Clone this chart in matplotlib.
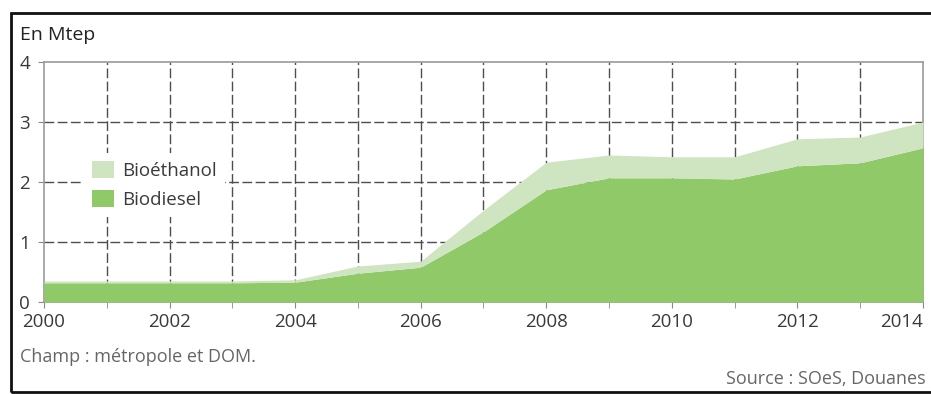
import matplotlib
matplotlib.use("Agg")
import matplotlib.pyplot as plt
from matplotlib.patches import Patch, Rectangle
import numpy as np

# Consommation de biocarburants, en Mtep
years = np.arange(2000, 2015)
biodiesel = [0.32, 0.32, 0.32, 0.32, 0.33, 0.48, 0.58, 1.17, 1.87, 2.07, 2.07, 2.05, 2.27, 2.32, 2.57]
bioethanol = [0.03, 0.03, 0.03, 0.03, 0.04, 0.12, 0.10, 0.36, 0.46, 0.38, 0.35, 0.37, 0.45, 0.43, 0.43]
xticks = [2000, 2002, 2004, 2006, 2008, 2010, 2012, 2014]
yticks = [0, 1, 2, 3, 4]

c_diesel = '#8fc968'
c_ethanol = '#cfe4c0'
c_grid = '#4d4d4d'
c_text = '#3a3a3a'

plt.rcParams['font.family'] = ['Open Sans', 'DejaVu Sans']

W, H = 931, 394
fig = plt.figure(figsize=(W / 100, H / 100), dpi=100)

def fx(px):
    return px / W

def fy(py):
    return 1 - py / H

# cadre noir autour du graphique
fig.patches.append(Rectangle((fx(11), fy(392)), fx(940) - fx(11), fy(13) - fy(392),
                             transform=fig.transFigure, fill=False, edgecolor='#111111',
                             linewidth=2, zorder=0))

ax = fig.add_axes([fx(44), fy(302), fx(923) - fx(44), fy(62) - fy(302)])

total = np.array(biodiesel) + np.array(bioethanol)
ax.fill_between(years, 0, biodiesel, color=c_diesel, linewidth=0, zorder=3)
ax.fill_between(years, biodiesel, total, color=c_ethanol, linewidth=0, zorder=3)

ax.set_xlim(2000, 2014)
ax.set_ylim(0, 4)
ax.set_xticks(xticks)
ax.set_xticks(years, minor=True)
ax.set_yticks(yticks)

# quadrillage en tirets, seulement à l'intérieur du cadre
dash = (0, (7, 2.5))
ax.vlines(years[1:-1], 0, 4, colors=c_grid, linestyles=dash, linewidth=1, zorder=1)
ax.hlines(yticks[1:-1], 2000, 2014, colors=c_grid, linestyles=dash, linewidth=1, zorder=1)

for spine in ax.spines.values():
    spine.set_color('#9a9a9a')
    spine.set_linewidth(1.2)

ax.tick_params(axis='both', which='both', length=4, color='#888888', labelsize=13.5,
               labelcolor=c_text)
ax.tick_params(axis='x', pad=4)
ax.tick_params(axis='y', pad=6)
labels = ax.get_xticklabels()
labels[-1].set_horizontalalignment('right')
labels[-1].set_x(2014.05)

handles = [Patch(facecolor=c_ethanol, edgecolor='none', label='Bioéthanol'),
           Patch(facecolor=c_diesel, edgecolor='none', label='Biodiesel')]
leg = ax.legend(handles=handles, loc='upper left', bbox_to_anchor=(fx(84), fy(153)),
                bbox_transform=fig.transFigure, frameon=True, fancybox=False,
                framealpha=1, edgecolor='none', facecolor='white', fontsize=13.5,
                handlelength=1.2, handleheight=1.05, handletextpad=0.45,
                labelspacing=0.55, borderpad=0.4, borderaxespad=0)
for t in leg.get_texts():
    t.set_color(c_text)
leg.set_zorder(5)

fig.text(fx(20), fy(35), 'En Mtep', fontsize=14, color='#222222', va='center', ha='left')
fig.text(fx(20), fy(357), 'Champ : métropole et DOM.', fontsize=13, color='#666666',
         va='center', ha='left')
fig.text(fx(926), fy(379), 'Source : SOeS, Douanes', fontsize=13, color='#666666',
         va='center', ha='right')

fig.savefig('out.png', dpi=100)
